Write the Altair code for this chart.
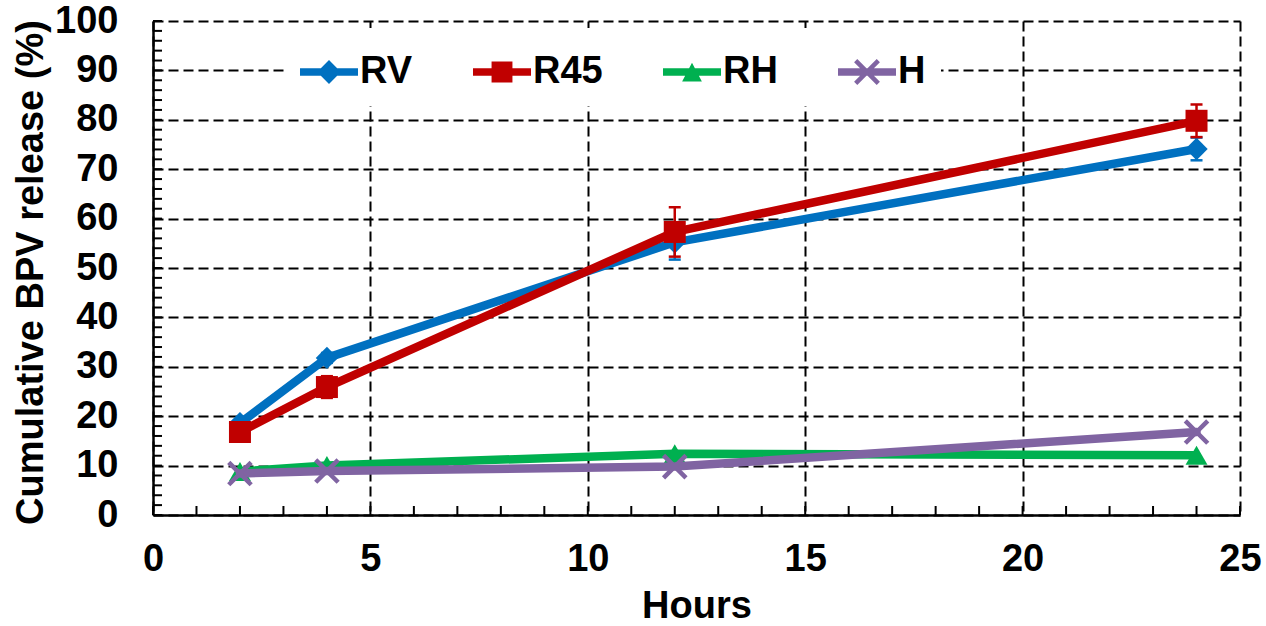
import altair as alt
import pandas as pd

# ---------------- data ----------------
series = ["RV", "R45", "RH", "H"]
colors = ["#0070C0", "#C00000", "#00B050", "#8064A2"]
hours = [2, 4, 12, 24]
rv = [18.6, 31.8, 55.2, 74.1]
r45 = [16.8, 25.9, 57.3, 79.8]
rh = [8.8, 10.0, 12.4, 12.1]
h = [8.4, 8.9, 9.8, 16.8]
rv_err = [0.5, 1.0, 3.5, 2.3]
r45_err = [0.5, 2.2, 5.0, 3.3]
rh_err = [0, 0, 0, 0]
h_err = [0, 0, 0, 0]

x_major = [0, 5, 10, 15, 20, 25]
y_major = [0, 10, 20, 30, 40, 50, 60, 70, 80, 90, 100]
x_minor = list(range(0, 26, 1))
y_minor = list(range(0, 101, 2))

values = {"RV": rv, "R45": r45, "RH": rh, "H": h}
errors = {"RV": rv_err, "R45": r45_err, "RH": rh_err, "H": h_err}

rows = []
for s in series:
    for hr, v, e in zip(hours, values[s], errors[s]):
        rows.append({"series": s, "hours": hr, "value": v, "err": e})
df = pd.DataFrame(rows)

# ---------------- styling ----------------
FONT = "Liberation Sans"
W, H = 1087, 494
Y_TITLE = "Cumulative BPV release (%)"

e_x = 0.125
L_x = 0.88
x_path = (
    f"M{-L_x+e_x},{-L_x-e_x}L{L_x+e_x},{L_x-e_x}L{L_x-e_x},{L_x+e_x}L{-L_x-e_x},{-L_x+e_x}Z"
    f"M{L_x-e_x},{-L_x-e_x}L{L_x+e_x},{-L_x+e_x}L{-L_x+e_x},{L_x+e_x}L{-L_x-e_x},{L_x-e_x}Z"
)
marker_shape = {"RV": "diamond", "R45": "square", "RH": "triangle-up", "H": x_path}
marker_size = {"RV": 500, "R45": 484, "RH": 480, "H": 650}

line_part = "M-1,-0.13L1,-0.13L1,0.13L-1,0.13Z"
d = 0.41
diamond_part = f"M0,{-d}L{d},0L0,{d}L{-d},0Z"
s_ = 0.36
square_part = f"M{-s_},{-s_}L{s_},{-s_}L{s_},{s_}L{-s_},{s_}Z"
tri_part = "M0,-0.32L0.34,0.33L-0.34,0.33Z"
eL, LL = 0.055, 0.39
xl_part = (
    f"M{-LL+eL},{-LL-eL}L{LL+eL},{LL-eL}L{LL-eL},{LL+eL}L{-LL-eL},{-LL+eL}Z"
    f"M{LL-eL},{-LL-eL}L{LL+eL},{-LL+eL}L{-LL+eL},{LL+eL}L{-LL-eL},{LL-eL}Z"
)
legend_paths = [line_part + diamond_part, line_part + square_part,
                line_part + tri_part, line_part + xl_part]

color_scale = alt.Scale(domain=series, range=colors)
x_scale = alt.Scale(domain=[0, 25], nice=False, zero=False)
y_scale = alt.Scale(domain=[0, 100], nice=False)

x_axis = alt.Axis(values=x_major, grid=True, ticks=False,
                  labelPadding=25, labelFlush=False,
                  titleY=102, titleBaseline="alphabetic")
y_axis = alt.Axis(values=y_major, grid=True, ticks=False,
                  labelPadding=35, labelFlush=False,
                  titleX=-111, titleY=251, titleAngle=270,
                  titleBaseline="alphabetic", titleAlign="center")

X = alt.X("hours:Q", scale=x_scale, axis=x_axis, title="Hours")
Y = alt.Y("value:Q", scale=y_scale, axis=y_axis, title=Y_TITLE)

legend = alt.Legend(
    orient="none", legendX=132, legendY=7, direction="horizontal", title=None,
    symbolSize=3364, symbolStrokeWidth=0, symbolOpacity=1,
    labelFont=FONT, labelFontSize=38, labelFontWeight="bold", labelColor="black",
    labelOffset=2, columnPadding=60, padding=15, fillColor="white",
)

base = alt.Chart(df)

# legend-only layer (draws no marks) — placed first so its legend settings win
legend_layer = base.transform_filter(alt.datum.value < 0).mark_point(
    filled=True, opacity=1
).encode(
    x=X, y=Y,
    color=alt.Color("series:N", scale=color_scale, legend=legend),
    shape=alt.Shape("series:N", scale=alt.Scale(domain=series, range=legend_paths), legend=legend),
)

layers = []
for s in series:
    sub = base.transform_filter(alt.datum.series == s)
    col = alt.Color("series:N", scale=color_scale)
    line = sub.mark_line(strokeWidth=8.5, strokeJoin="round", strokeCap="round").encode(
        x=X, y=Y, color=col
    )
    errs = sub.transform_filter(alt.datum.err > 0).transform_calculate(
        lo="datum.value - datum.err", hi="datum.value + datum.err"
    )
    stem = errs.mark_rule(strokeWidth=2.5).encode(
        x=X, y=alt.Y("lo:Q", scale=y_scale, title=Y_TITLE), y2="hi:Q", color=col,
    )
    cap_lo = errs.mark_tick(orient="horizontal", size=12, thickness=2.5, opacity=1).encode(
        x=X, y=alt.Y("lo:Q", scale=y_scale, title=Y_TITLE), color=col,
    )
    cap_hi = errs.mark_tick(orient="horizontal", size=12, thickness=2.5, opacity=1).encode(
        x=X, y=alt.Y("hi:Q", scale=y_scale, title=Y_TITLE), color=col,
    )
    pts = sub.mark_point(shape=marker_shape[s], size=marker_size[s], filled=True,
                         opacity=1, strokeWidth=0).encode(
        x=X, y=Y, color=col
    )
    layers += [line, stem, cap_lo, cap_hi, pts]

xt = alt.Chart(pd.DataFrame({"t": x_minor})).mark_rule(color="black", strokeWidth=2).encode(
    x=alt.X("t:Q", scale=x_scale, title="Hours"), y=alt.value(H), y2=alt.value(H - 9)
)
yt = alt.Chart(pd.DataFrame({"t": y_minor})).mark_rule(color="black", strokeWidth=2).encode(
    y=alt.Y("t:Q", scale=y_scale, title=Y_TITLE), x=alt.value(0), x2=alt.value(9)
)

chart = alt.layer(legend_layer, *layers, xt, yt).properties(
    width=W, height=H,
    autosize=alt.AutoSizeParams(type="none"),
    padding={"left": 153, "top": 21, "right": 26, "bottom": 111},
    background="white",
).configure_view(stroke=None).configure_axis(
    labelFont=FONT, labelFontSize=38, labelFontWeight="bold", labelColor="black",
    titleFont=FONT, titleFontSize=38, titleFontWeight="bold", titleColor="black",
    domainColor="black", domainWidth=2.5,
    gridColor="black", gridDash=[10, 5], gridWidth=2, gridOpacity=1,
)

chart.save("out.html", embed_options={"renderer": "svg", "actions": False})
